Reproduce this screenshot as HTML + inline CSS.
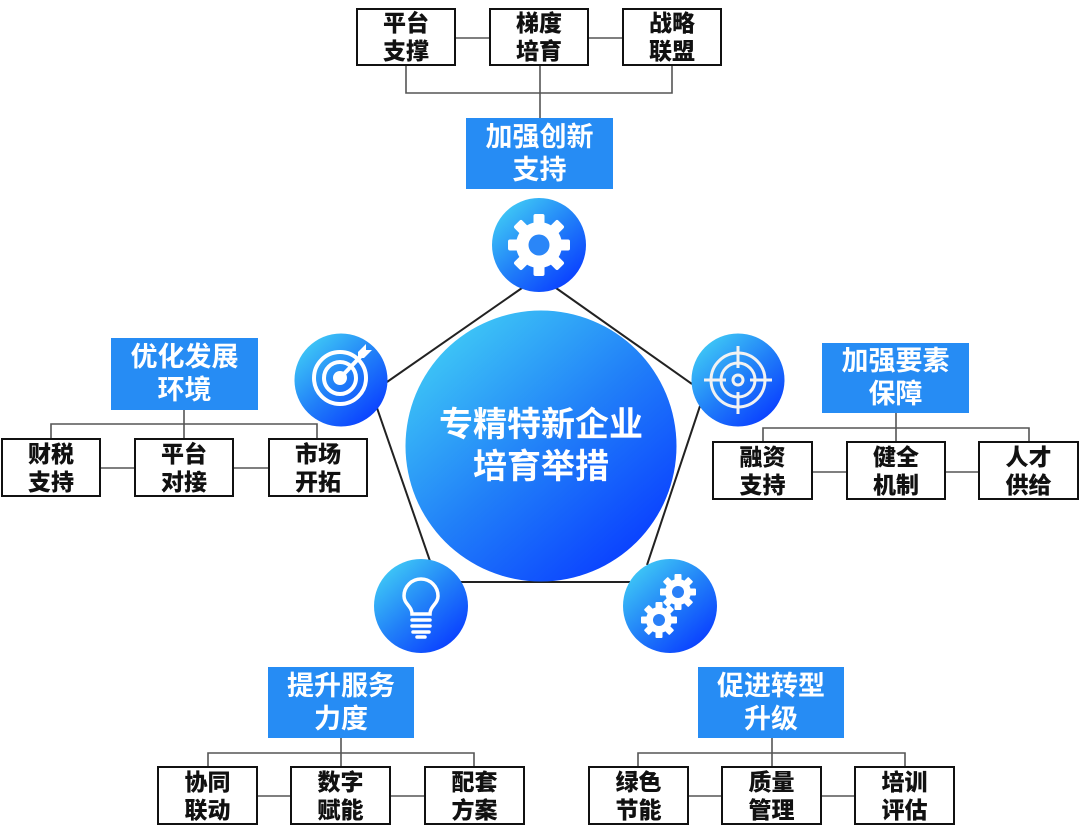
<!DOCTYPE html>
<html><head><meta charset="utf-8">
<style>
html,body{margin:0;padding:0;background:#fff;}
body{width:1080px;height:838px;position:relative;overflow:hidden;font-family:"Liberation Sans","Noto Sans CJK SC",sans-serif;}
svg{position:absolute;left:0;top:0;}
.box{position:absolute;box-sizing:border-box;border:2px solid #111;background:#fff;display:flex;align-items:center;justify-content:center;text-align:center;font-weight:900;font-size:23px;line-height:28px;color:#111;}
.lab{position:absolute;box-sizing:border-box;background:#268cf4;display:flex;align-items:center;justify-content:center;text-align:center;font-weight:bold;font-size:27px;line-height:33px;color:#fff;}
.ctr{position:absolute;left:406px;top:404px;width:270px;text-align:center;color:#fff;font-weight:bold;font-size:34px;line-height:42px;}
</style></head><body>
<svg width="1080" height="838" viewBox="0 0 1080 838">
<defs>
<linearGradient id="g" x1="0.15" y1="0.1" x2="0.85" y2="0.9">
<stop offset="0" stop-color="#3ec6f6"/>
<stop offset="0.5" stop-color="#2180f8"/>
<stop offset="1" stop-color="#0a40ff"/>
</linearGradient>
</defs>
<g stroke="#555" stroke-width="1.6" fill="none">
<line x1="456" y1="38" x2="489" y2="38"/><line x1="589" y1="38" x2="622" y2="38"/>
<polyline points="406,66 406,93 672,93 672,66"/><line x1="540" y1="66" x2="540" y2="118"/>
<polyline points="51,438 51,424 317,424 317,438"/><line x1="184" y1="410" x2="184" y2="438"/>
<line x1="101" y1="468" x2="134" y2="468"/><line x1="234" y1="468" x2="268" y2="468"/>
<polyline points="763,441 763,428 1029,428 1029,441"/><line x1="896" y1="413" x2="896" y2="441"/>
<line x1="813" y1="472" x2="846" y2="472"/><line x1="946" y1="472" x2="978" y2="472"/>
<polyline points="208,766 208,753 474,753 474,766"/><line x1="341" y1="738" x2="341" y2="766"/>
<line x1="257" y1="796" x2="290" y2="796"/><line x1="390" y1="796" x2="424" y2="796"/>
<polyline points="638,766 638,753 905,753 905,766"/><line x1="772" y1="738" x2="772" y2="766"/>
<line x1="689" y1="796" x2="721" y2="796"/><line x1="822" y1="796" x2="854" y2="796"/>
</g>
<g stroke="#222" stroke-width="2" fill="none">
<line x1="522" y1="288" x2="387" y2="382"/>
<line x1="556" y1="288" x2="692" y2="384"/>
<line x1="377" y1="408" x2="430" y2="561"/>
<line x1="700" y1="406" x2="647" y2="565"/>
<line x1="460" y1="582" x2="630" y2="582"/>
</g>
<circle cx="541" cy="446" r="135.5" fill="url(#g)"/>
<circle cx="539" cy="245" r="47" fill="url(#g)"/>
<circle cx="341" cy="380" r="46.5" fill="url(#g)"/>
<circle cx="738" cy="380" r="46.5" fill="url(#g)"/>
<circle cx="421" cy="606" r="47" fill="url(#g)"/>
<circle cx="670" cy="606" r="47" fill="url(#g)"/>
<g transform="translate(539,245)" fill="#fff">
<circle r="23"/>
<g><rect x="-5.5" y="-31" width="11" height="12" rx="2"/></g>
<g transform="rotate(45)"><rect x="-5.5" y="-31" width="11" height="12" rx="2"/></g>
<g transform="rotate(90)"><rect x="-5.5" y="-31" width="11" height="12" rx="2"/></g>
<g transform="rotate(135)"><rect x="-5.5" y="-31" width="11" height="12" rx="2"/></g>
<g transform="rotate(180)"><rect x="-5.5" y="-31" width="11" height="12" rx="2"/></g>
<g transform="rotate(225)"><rect x="-5.5" y="-31" width="11" height="12" rx="2"/></g>
<g transform="rotate(270)"><rect x="-5.5" y="-31" width="11" height="12" rx="2"/></g>
<g transform="rotate(315)"><rect x="-5.5" y="-31" width="11" height="12" rx="2"/></g>
<circle r="10.5" fill="#2a86f8"/>
</g>
<g fill="none" stroke="#fff" stroke-width="4">
<circle cx="340" cy="378" r="26"/>
<circle cx="340" cy="378" r="16"/>
<line x1="341" y1="377" x2="362" y2="355"/>
</g>
<circle cx="340" cy="378" r="7" fill="#fff"/>
<polygon points="358,352 366,344 366,350 372,350 364,358 358,358" fill="#fff"/>
<g fill="none" stroke="#f2f2f2" stroke-width="3">
<circle cx="738" cy="380" r="27"/>
<circle cx="738" cy="380" r="17"/>
<circle cx="738" cy="380" r="5"/>
<line x1="738" y1="346" x2="738" y2="368"/>
<line x1="738" y1="392" x2="738" y2="414"/>
<line x1="704" y1="380" x2="726" y2="380"/>
<line x1="750" y1="380" x2="772" y2="380"/>
</g>
<g fill="none" stroke="#fff" stroke-width="3.5" stroke-linecap="round">
<path d="M412 614 C412 606 404 604 404 596 A17 17 0 1 1 438 596 C438 604 430 606 430 614 Z"/>
<line x1="412" y1="620" x2="430" y2="620"/>
<line x1="412" y1="626" x2="430" y2="626"/>
<line x1="413" y1="632" x2="429" y2="632"/>
<line x1="417" y1="637" x2="425" y2="637"/>
</g>
<g transform="translate(678,592)" fill="#fff">
<circle r="13"/>
<rect x="-3.5" y="-18" width="7" height="8" rx="1"/>
<rect x="-3.5" y="-18" width="7" height="8" rx="1" transform="rotate(45)"/>
<rect x="-3.5" y="-18" width="7" height="8" rx="1" transform="rotate(90)"/>
<rect x="-3.5" y="-18" width="7" height="8" rx="1" transform="rotate(135)"/>
<rect x="-3.5" y="-18" width="7" height="8" rx="1" transform="rotate(180)"/>
<rect x="-3.5" y="-18" width="7" height="8" rx="1" transform="rotate(225)"/>
<rect x="-3.5" y="-18" width="7" height="8" rx="1" transform="rotate(270)"/>
<rect x="-3.5" y="-18" width="7" height="8" rx="1" transform="rotate(315)"/>
<circle r="6" fill="#2a80f8"/>
</g>
<g transform="translate(659,620)" fill="#fff">
<circle r="13"/>
<rect x="-3.5" y="-18" width="7" height="8" rx="1"/>
<rect x="-3.5" y="-18" width="7" height="8" rx="1" transform="rotate(45)"/>
<rect x="-3.5" y="-18" width="7" height="8" rx="1" transform="rotate(90)"/>
<rect x="-3.5" y="-18" width="7" height="8" rx="1" transform="rotate(135)"/>
<rect x="-3.5" y="-18" width="7" height="8" rx="1" transform="rotate(180)"/>
<rect x="-3.5" y="-18" width="7" height="8" rx="1" transform="rotate(225)"/>
<rect x="-3.5" y="-18" width="7" height="8" rx="1" transform="rotate(270)"/>
<rect x="-3.5" y="-18" width="7" height="8" rx="1" transform="rotate(315)"/>
<circle r="6" fill="#2a80f8"/>
</g>
</svg>

<div class="ctr">专精特新企业<br>培育举措</div>

<div class="box" style="left:356px;top:8px;width:100px;height:58px;">平台<br>支撑</div>
<div class="box" style="left:489px;top:8px;width:100px;height:58px;">梯度<br>培育</div>
<div class="box" style="left:622px;top:8px;width:100px;height:58px;">战略<br>联盟</div>
<div class="lab" style="left:466px;top:118px;width:147px;height:71px;">加强创新<br>支持</div>

<div class="lab" style="left:111px;top:338px;width:147px;height:72px;">优化发展<br>环境</div>
<div class="box" style="left:1px;top:438px;width:100px;height:59px;">财税<br>支持</div>
<div class="box" style="left:134px;top:438px;width:100px;height:59px;">平台<br>对接</div>
<div class="box" style="left:268px;top:438px;width:100px;height:59px;">市场<br>开拓</div>

<div class="lab" style="left:822px;top:343px;width:147px;height:70px;">加强要素<br>保障</div>
<div class="box" style="left:712px;top:441px;width:101px;height:59px;">融资<br>支持</div>
<div class="box" style="left:846px;top:441px;width:100px;height:59px;">健全<br>机制</div>
<div class="box" style="left:978px;top:441px;width:101px;height:59px;">人才<br>供给</div>

<div class="lab" style="left:268px;top:667px;width:146px;height:71px;">提升服务<br>力度</div>
<div class="box" style="left:157px;top:766px;width:101px;height:59px;">协同<br>联动</div>
<div class="box" style="left:290px;top:766px;width:101px;height:59px;">数字<br>赋能</div>
<div class="box" style="left:424px;top:766px;width:101px;height:59px;">配套<br>方案</div>

<div class="lab" style="left:698px;top:667px;width:146px;height:71px;">促进转型<br>升级</div>
<div class="box" style="left:588px;top:766px;width:101px;height:59px;">绿色<br>节能</div>
<div class="box" style="left:721px;top:766px;width:101px;height:59px;">质量<br>管理</div>
<div class="box" style="left:854px;top:766px;width:101px;height:59px;">培训<br>评估</div>
</body></html>
